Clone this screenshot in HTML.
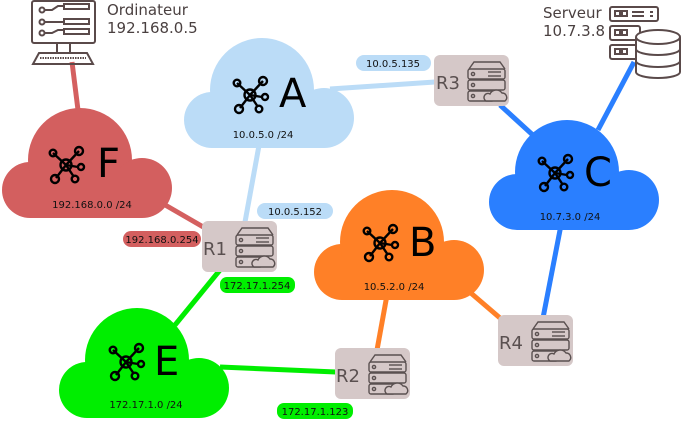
<!DOCTYPE html>
<html><head><meta charset="utf-8"><style>
html,body{margin:0;padding:0;background:#fff;}
svg{display:block;font-family:"DejaVu Sans","Liberation Sans",sans-serif;}
</style></head><body>
<svg width="681" height="421" viewBox="0 0 681 421" xmlns="http://www.w3.org/2000/svg">
<defs>
<g id="cloud">
<circle cx="30" cy="82" r="28"/>
<ellipse cx="80" cy="52" rx="52" ry="52"/>
<circle cx="142" cy="80" r="30"/>
<rect x="30" y="60" width="112" height="50"/>
</g>
<g id="net" fill="none" stroke="#000" stroke-width="2.4">
<line x1="0" y1="0" x2="13" y2="-14"/><line x1="0" y1="0" x2="-13" y2="-12"/>
<line x1="0" y1="0" x2="12" y2="2"/><line x1="0" y1="0" x2="-10" y2="13"/>
<line x1="0" y1="0" x2="8" y2="12"/>
<circle cx="0" cy="0" r="5.5" fill="none"/>
<circle cx="13" cy="-14" r="4"/><circle cx="-13" cy="-12" r="3.3"/>
<circle cx="15" cy="2" r="3"/><circle cx="-11" cy="14" r="4"/><circle cx="9" cy="14" r="3.3"/>
</g>
<g id="router">
<rect x="0" y="0" width="75" height="51" rx="6" fill="#d5c8c8"/>
<g fill="none" stroke="#5a5050" stroke-width="1.4">
<path d="M35 14 L40 7 H66 L71 14"/>
<rect x="34" y="14" width="37" height="10" rx="2"/>
<rect x="34" y="25" width="37" height="10" rx="2"/>
<rect x="34" y="36" width="26" height="10" rx="2"/>
<circle cx="39" cy="19" r="1.6"/><circle cx="39" cy="30" r="1.6"/><circle cx="39" cy="41" r="1.6"/>
<line x1="54" y1="17" x2="67" y2="17"/><line x1="54" y1="21" x2="67" y2="21"/>
<path d="M52 46 h19 a4.5 4.5 0 0 0 -3 -8 a7 7 0 0 0 -12 1 a3.5 3.5 0 0 0 -4 7z" fill="#d5c8c8"/>
</g>
</g>
</defs>

<g stroke-width="5" stroke-linecap="butt">
<line x1="72" y1="62" x2="78" y2="110" stroke="#d46060"/>
<line x1="160" y1="202" x2="205" y2="228" stroke="#d46060"/>
<line x1="260" y1="140" x2="245" y2="222" stroke="#bbdcf7"/>
<line x1="330" y1="89" x2="435" y2="82" stroke="#bbdcf7"/>
<line x1="500" y1="105" x2="535" y2="137" stroke="#2a7fff"/>
<line x1="634" y1="62" x2="598" y2="130" stroke="#2a7fff"/>
<line x1="561" y1="225" x2="543" y2="318" stroke="#2a7fff"/>
<line x1="465" y1="288" x2="500" y2="318" stroke="#ff8027"/>
<line x1="387" y1="295" x2="377" y2="350" stroke="#ff8027"/>
<line x1="175" y1="325" x2="220" y2="270" stroke="#00ee00"/>
<line x1="220" y1="367" x2="336" y2="372" stroke="#00ee00"/>
</g>

<use href="#cloud" x="0" y="108" fill="#d35f5f"/>
<use href="#cloud" x="182" y="38" fill="#bbdcf7"/>
<use href="#cloud" x="487" y="120" fill="#2a7fff"/>
<use href="#cloud" x="312" y="190" fill="#ff8027"/>
<use href="#cloud" x="57" y="308" fill="#00ee00"/>

<g font-size="40" fill="#000">
<use href="#net" x="66" y="165"/><text x="97" y="177">F</text>
<use href="#net" x="250" y="95"/><text x="279" y="107">A</text>
<use href="#net" x="555" y="173"/><text x="584" y="186">C</text>
<use href="#net" x="380" y="243"/><text x="409" y="256">B</text>
<use href="#net" x="126" y="362"/><text x="154" y="375">E</text>
</g>
<g font-size="10" fill="#111" text-anchor="middle">
<text x="92" y="208">192.168.0.0 /24</text>
<text x="263" y="138">10.0.5.0 /24</text>
<text x="570" y="220">10.7.3.0 /24</text>
<text x="394" y="290">10.5.2.0 /24</text>
<text x="146" y="408">172.17.1.0 /24</text>
</g>

<use href="#router" x="202" y="221"/>
<use href="#router" x="434" y="55"/>
<use href="#router" x="498" y="315"/>
<use href="#router" x="335" y="348"/>
<g font-size="18" fill="#5a5050">
<text x="203" y="255">R1</text>
<text x="436" y="89">R3</text>
<text x="499" y="349">R4</text>
<text x="336" y="382">R2</text>
</g>

<rect x="356" y="55" width="75" height="16" rx="8" fill="#bbdcf7"/>
<rect x="257" y="203" width="76" height="16" rx="8" fill="#bbdcf7"/>
<rect x="123" y="231" width="78" height="16" rx="8" fill="#d35f5f"/>
<rect x="220" y="277" width="75" height="16" rx="7" fill="#00ee00"/>
<rect x="277" y="403" width="76" height="16" rx="7" fill="#00ee00"/>
<g font-size="10" fill="#111" text-anchor="middle">
<text x="393" y="67">10.0.5.135</text>
<text x="295" y="215">10.0.5.152</text>
<text x="162" y="243">192.168.0.254</text>
<text x="257" y="289">172.17.1.254</text>
<text x="315" y="415">172.17.1.123</text>
</g>

<g fill="none" stroke="#5a4a4a" stroke-width="2">
<rect x="32" y="1" width="63" height="42" rx="2"/>
<path d="M57 43 v10 M70 43 v10"/>
<path d="M39 53 H87 L93 64 H33 Z"/>
<path d="M40 58 H86" stroke-dasharray="1.5 1"/>
<circle cx="42" cy="10" r="2.5"/><circle cx="42" cy="22" r="2.5"/><circle cx="42" cy="33" r="2.5"/>
<path d="M45 10 H52 L58 6 H64 M45 22 H64 M45 33 H52 L58 30 H64"/>
<rect x="64" y="4" width="25" height="5"/><rect x="64" y="19" width="25" height="5"/><rect x="64" y="29" width="25" height="5"/>
</g>
<g font-size="15" fill="#4a4040">
<text x="107" y="15">Ordinateur</text>
<text x="107" y="33">192.168.0.5</text>
<text x="543" y="18">Serveur</text>
<text x="543" y="36">10.7.3.8</text>
</g>

<g fill="none" stroke="#5a4a4a" stroke-width="2">
<rect x="610" y="7" width="48" height="14" rx="2"/>
<rect x="610" y="26" width="30" height="14" rx="2"/>
<rect x="610" y="45" width="30" height="14" rx="2"/>
<path d="M615 11 h5 v5 h-5z M622 11 h5 v5 h-5z M615 30 h5 v5 h-5z M622 30 h5 v5 h-5z M615 49 h5 v5 h-5z M622 49 h5 v5 h-5z M632 12 h12 M632 16 h12 M650 12 h3 M650 16 h3"/>
<path d="M636 37 v35 a22 6 0 0 0 44 0 v-35" fill="#fff"/>
<ellipse cx="658" cy="37" rx="22" ry="7" fill="#fff"/>
<path d="M636 49 a22 6 0 0 0 44 0 M636 61 a22 6 0 0 0 44 0"/>
</g>
</svg>
</body></html>
